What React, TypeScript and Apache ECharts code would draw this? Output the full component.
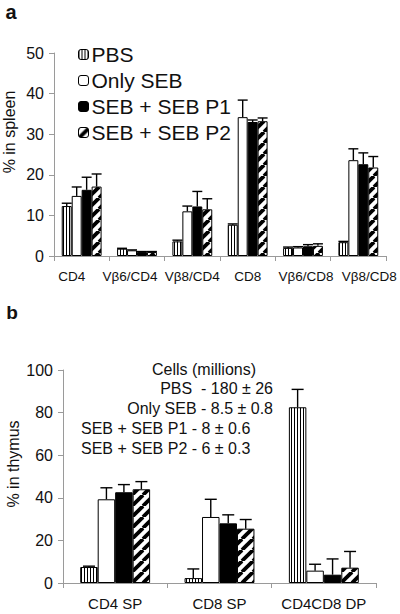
import React, { useEffect, useRef } from 'react';
import * as echarts from 'echarts';

const seriesNames = ['PBS', 'Only SEB', 'SEB + SEB P1', 'SEB + SEB P2'];

// Panel a: % in spleen
const spleenCategories = ['CD4', 'Vβ6/CD4', 'Vβ8/CD4', 'CD8', 'Vβ6/CD8', 'Vβ8/CD8'];
const spleenPBS = [12.3, 1.8, 3.6, 7.7, 2.0, 3.4];
const spleenPBSErr = [0.7, 0.1, 0.3, 0.2, 0.2, 0.2];
const spleenSEB = [14.8, 1.4, 11.0, 34.2, 2.1, 23.6];
const spleenSEBErr = [2.2, 0.1, 1.3, 4.2, 0.2, 2.8];
const spleenP1 = [16.3, 1.0, 12.2, 33.0, 2.4, 22.6];
const spleenP1Err = [3.1, 0.1, 3.7, 0.5, 0.4, 2.8];
const spleenP2 = [17.1, 1.0, 11.5, 33.2, 2.5, 21.8];
const spleenP2Err = [3.1, 0.1, 2.6, 0.8, 0.5, 2.7];

// Panel b: % in thymus
const thymusCategories = ['CD4 SP', 'CD8 SP', 'CD4CD8 DP'];
const thymusPBS = [7.5, 2.3, 82.5];
const thymusPBSErr = [0.4, 4.3, 8.4];
const thymusSEB = [39.3, 31.0, 5.8];
const thymusSEBErr = [5.4, 8.3, 3.0];
const thymusP1 = [42.6, 28.0, 3.9];
const thymusP1Err = [3.6, 4.0, 7.4];
const thymusP2 = [44.0, 25.5, 7.2];
const thymusP2Err = [3.6, 4.3, 7.6];

const cellCountTitle = 'Cells (millions)';
const cellCountLines = [
  'PBS  - 180 ± 26',
  'Only SEB - 8.5 ± 0.8',
  'SEB + SEB P1 - 8 ± 0.6',
  'SEB + SEB P2 - 6 ± 0.3',
];

const FONT = '"Liberation Sans", Arial, Helvetica, sans-serif';
const TEXT = '#111';
const AXIS = '#9a9a9a';

// horizontal nudges (px) of the spleen category labels, as laid out in the source figure
const spleenLabelShift = [-10, -7, 0, 0, 3, 11];

function verticalStripes() {
  const c = document.createElement('canvas');
  c.width = 3;
  c.height = 6;
  const ctx = c.getContext('2d')!;
  ctx.fillStyle = '#fff';
  ctx.fillRect(0, 0, 3, 6);
  ctx.fillStyle = '#000';
  ctx.fillRect(0, 0, 1, 6);
  return { image: c, repeat: 'repeat' };
}

function diagonalStripes() {
  const s = 11;
  const c = document.createElement('canvas');
  c.width = s;
  c.height = s;
  const ctx = c.getContext('2d')!;
  ctx.fillStyle = '#fff';
  ctx.fillRect(0, 0, s, s);
  ctx.strokeStyle = '#000';
  ctx.lineWidth = 3.8;
  for (const o of [-s, 0, s]) {
    ctx.beginPath();
    ctx.moveTo(o, s);
    ctx.lineTo(o + s, 0);
    ctx.stroke();
  }
  return { image: c, repeat: 'repeat' };
}

function errorSeries(gridIdx: number, gap: number, values: number[][], errs: number[][]) {
  const data: number[][] = [];
  values.forEach((vals, g) => {
    vals.forEach((v, i) => data.push([i, v, errs[g][i], g]));
  });
  return {
    type: 'custom',
    name: 'err' + gridIdx,
    xAxisIndex: gridIdx,
    yAxisIndex: gridIdx,
    z: 5,
    silent: true,
    encode: { x: 0, y: 1 },
    data,
    renderItem: (_params: any, api: any) => {
      const cat = api.value(0);
      const val = api.value(1);
      const err = api.value(2);
      const g = api.value(3);
      const base = api.coord([cat, val]);
      const top = api.coord([cat, val + err]);
      const band = api.size([1, 0])[0];
      const groupW = band * (1 - gap);
      const bw = groupW / 4;
      const x = base[0] - groupW / 2 + bw * (g + 0.5);
      const cap = Math.min(bw, 12);
      const st = { stroke: '#000', lineWidth: 1.4 };
      return {
        type: 'group',
        children: [
          { type: 'line', shape: { x1: x, y1: base[1], x2: x, y2: top[1] }, style: st },
          { type: 'line', shape: { x1: x - cap / 2, y1: top[1], x2: x + cap / 2, y2: top[1] }, style: st },
        ],
      };
    },
  };
}

function txt(text: string, x: number, y: number, size: number, align: string, extra: any = {}) {
  return {
    type: 'text',
    x,
    y,
    ...extra,
    style: {
      text,
      fontSize: size,
      fontFamily: FONT,
      fontWeight: extra.bold ? 'bold' : 'normal',
      fill: TEXT,
      align,
      verticalAlign: 'middle',
      textAlign: align,
      textVerticalAlign: 'middle',
    },
  };
}

export default function App() {
  const ref = useRef<HTMLDivElement>(null);

  useEffect(() => {
    if (!ref.current) return;
    const chart = echarts.init(ref.current, undefined, { renderer: 'svg' });
    const fills = [verticalStripes(), '#fff', '#000', diagonalStripes()];
    const gapA = 0.28;
    const gapB = 0.33;
    const spleenVals = [spleenPBS, spleenSEB, spleenP1, spleenP2];
    const spleenErrs = [spleenPBSErr, spleenSEBErr, spleenP1Err, spleenP2Err];
    const thymusVals = [thymusPBS, thymusSEB, thymusP1, thymusP2];
    const thymusErrs = [thymusPBSErr, thymusSEBErr, thymusP1Err, thymusP2Err];

    const barSeries = (gridIdx: number, gap: number, vals: number[][]) =>
      vals.map((d, g) => ({
        type: 'bar',
        name: seriesNames[g],
        xAxisIndex: gridIdx,
        yAxisIndex: gridIdx,
        data: d,
        barGap: '0%',
        barCategoryGap: Math.round(gap * 100) + '%',
        itemStyle: { color: fills[g], borderColor: '#000', borderWidth: 1 },
      }));

    const spleenRich: any = {};
    spleenLabelShift.forEach((s, i) => {
      spleenRich['s' + i] = {
        fontSize: 13.5,
        fontFamily: FONT,
        color: TEXT,
        padding: s < 0 ? [0, -2 * s, 0, 0] : [0, 0, 0, 2 * s],
      };
    });

    const xAxisCommon = (data: string[], size: number) => ({
      type: 'category',
      data,
      axisLine: { show: true, lineStyle: { color: AXIS, width: 1 } },
      axisTick: { show: true, length: 5, lineStyle: { color: AXIS } },
      axisLabel: { fontSize: size, fontFamily: FONT, color: TEXT, margin: 13, interval: 0 },
      splitLine: { show: false },
    });
    const yAxisCommon = (max: number, interval: number) => ({
      type: 'value',
      min: 0,
      max,
      interval,
      axisLine: { show: true, lineStyle: { color: AXIS, width: 1 } },
      axisTick: { show: true, length: 5, lineStyle: { color: AXIS } },
      axisLabel: { fontSize: 16, fontFamily: FONT, color: TEXT, margin: 10 },
      splitLine: { show: false },
    });

    const xA: any = { ...xAxisCommon(spleenCategories, 13.5), gridIndex: 0 };
    xA.axisLabel = {
      ...xA.axisLabel,
      formatter: (v: string, i: number) => `{s${i}|${v}}`,
      rich: spleenRich,
    };

    chart.setOption({
      animation: false,
      backgroundColor: '#fff',
      grid: [
        { left: 54, top: 53, width: 332, height: 203 },
        { left: 63, top: 370, width: 313, height: 213 },
      ],
      xAxis: [xA, { ...xAxisCommon(thymusCategories, 15), gridIndex: 1 }],
      yAxis: [
        { ...yAxisCommon(50, 10), gridIndex: 0 },
        { ...yAxisCommon(100, 20), gridIndex: 1 },
      ],
      legend: {
        data: seriesNames,
        orient: 'vertical',
        left: 73,
        top: 39,
        itemWidth: 10,
        itemHeight: 10,
        itemGap: 5,
        selectedMode: false,
        textStyle: { fontSize: 21, fontFamily: FONT, color: TEXT, padding: [0, 0, 0, -2] },
        itemStyle: { borderColor: '#000', borderWidth: 1 },
      },
      series: [
        ...barSeries(0, gapA, spleenVals),
        ...barSeries(1, gapB, thymusVals),
        errorSeries(0, gapA, spleenVals, spleenErrs),
        errorSeries(1, gapB, thymusVals, thymusErrs),
      ],
      graphic: [
        txt('a', 11, 12, 20, 'center', { bold: true }),
        txt('b', 12, 312, 19, 'center', { bold: true }),
        txt('% in spleen', 9, 132, 16, 'center', { rotation: Math.PI / 2 }),
        txt('% in thymus', 13, 464, 16, 'center', { rotation: Math.PI / 2 }),
        txt(cellCountTitle, 204, 369, 16, 'center'),
        txt(cellCountLines[0], 273, 388, 16, 'right'),
        txt(cellCountLines[1], 273, 408, 16, 'right'),
        txt(cellCountLines[2], 81, 428, 16, 'left'),
        txt(cellCountLines[3], 81, 448, 16, 'left'),
      ],
    });
    return () => chart.dispose();
  }, []);

  return (
    <div
      ref={ref}
      style={{ position: 'fixed', left: 0, top: 0, width: 400, height: 614, background: '#fff' }}
    />
  );
}
